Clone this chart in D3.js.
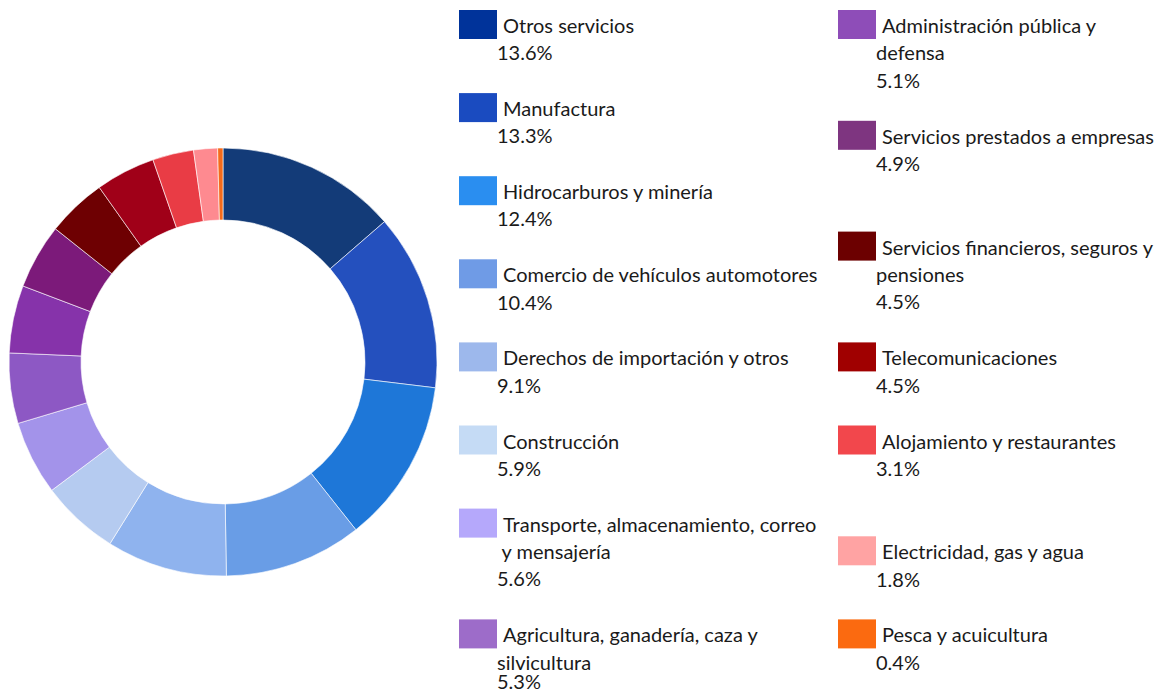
<!DOCTYPE html>
<html>
<head>
<meta charset="utf-8">
<script src="https://cdn.jsdelivr.net/npm/d3@7"></script>
<style>
  body { margin: 0; background: #fff; }
  svg { display: block; font-family: Lato, "Open Sans", sans-serif; }
</style>
</head>
<body>
<svg width="1158" height="692"></svg>
<script>
// Sectors, in the order they go round the ring
const sectors = [
    ["Otros servicios"],
    ["Manufactura"],
    ["Hidrocarburos y minería"],
    ["Comercio de vehículos automotores"],
    ["Derechos de importación y otros"],
    ["Construcción"],
    ["Transporte, almacenamiento, correo", " y mensajería"],
    ["Agricultura, ganadería, caza y", "silvicultura"],
    ["Administración pública y", "defensa"],
    ["Servicios prestados a empresas"],
    ["Servicios financieros, seguros y", "pensiones"],
    ["Telecomunicaciones"],
    ["Alojamiento y restaurantes"],
    ["Electricidad, gas y agua"],
    ["Pesca y acuicultura"]
];

// Share of each sector (%)
const shares = [13.6, 13.3, 12.4, 10.4, 9.1, 5.9, 5.6, 5.3, 5.1, 4.9, 4.5, 4.5, 3.1, 1.8, 0.4];

// Colours of the ring slices
const sliceColors = ["#133b78", "#2450be", "#1e77d8", "#699de6", "#8fb3ee", "#b5cbf0", "#a393ea",
    "#8d58c4", "#8633aa", "#7c1a7a", "#6e0002", "#a00018", "#e93c45", "#fe8a90", "#f56b1b"];

// Colours of the legend keys
const keyColors = ["#00339a", "#1a4bc0", "#2a8ef0", "#6f9be6", "#9db8ec", "#c5dbf5", "#b5a8fb",
    "#9d6cc9", "#8e4db8", "#7e3580", "#6c0000", "#a00000", "#f2474c", "#ffa3a3", "#fb6a10"];

// Legend: which column each entry sits in, and how many text rows it takes up
const legendColumn = [0, 0, 0, 0, 0, 0, 0, 0, 1, 1, 1, 1, 1, 1, 1];
const legendSlots = [3, 3, 3, 3, 3, 3, 4, 4, 4, 4, 4, 3, 4, 3, 3];

const width = 1158, height = 692;
const svg = d3.select("svg");

// Donut
const cx = 223, cy = 362;
const outerR = 214, innerR = 142;

const pie = d3.pie().sort(null).value(d => d);
const arc = d3.arc().innerRadius(innerR).outerRadius(outerR);

const ring = svg.append("g").attr("transform", `translate(${cx}, ${cy})`);

ring.selectAll("path")
    .data(pie(shares))
    .join("path")
    .attr("d", arc)
    .attr("fill", (d, i) => sliceColors[i])
    .attr("stroke", "rgba(255,255,255,0.6)")
    .attr("stroke-width", 1);

// Legend
const colX = [459, 838];
const rowUnit = 27.7;
const lineStep = 27.3;
const fmt = d => d.toFixed(1) + "%";

const used = [0, 0];
const legend = svg.append("g");

sectors.forEach((lines, i) => {
    const c = legendColumn[i];
    const top = 10 + used[c] * rowUnit;
    used[c] += legendSlots[i];

    const g = legend.append("g").attr("transform", `translate(${colX[c]}, ${top})`);

    g.append("rect")
        .attr("width", 38)
        .attr("height", 29)
        .attr("fill", keyColors[i]);

    const text = g.append("text")
        .attr("fill", "#1a1a1a")
        .style("font-size", "20px")
        .style("white-space", "pre");

    lines.forEach((line, j) => {
        text.append("tspan")
            .attr("x", j === 0 ? 44 : 38)
            .attr("y", 23 + j * lineStep)
            .text(line);
    });

    // keep the value line inside the picture (last entry sits at the bottom edge)
    const valueY = Math.min(23 + lines.length * lineStep, height - 3 - top);
    text.append("tspan")
        .attr("x", 38)
        .attr("y", valueY)
        .text(fmt(shares[i]));
});
</script>
</body>
</html>
